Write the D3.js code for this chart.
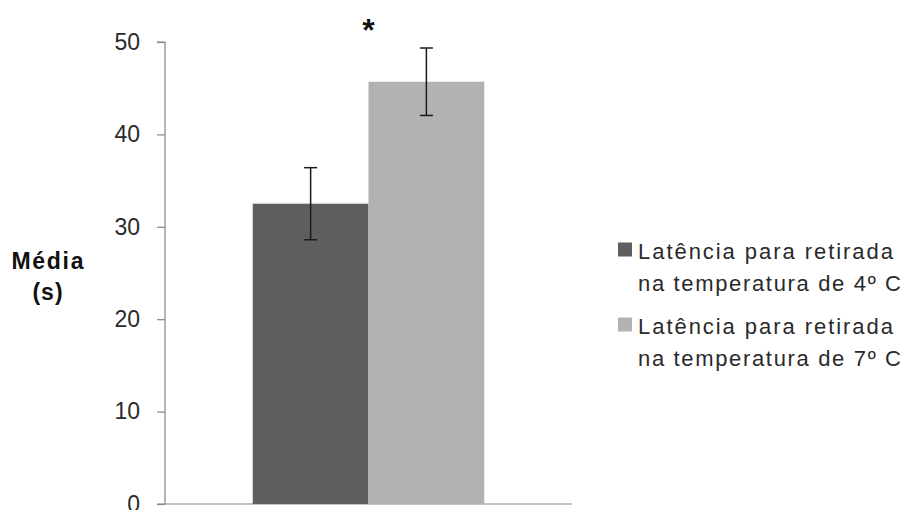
<!DOCTYPE html>
<html><head><meta charset="utf-8">
<script src="https://cdn.jsdelivr.net/npm/d3@7"></script>
<style>body{margin:0;background:#fff}svg{display:block}text{font-family:"Liberation Sans",Arial,sans-serif}</style>
</head><body><svg id="c" width="915" height="510"></svg>
<script>
const categories = ["Latência para retirada na temperatura de 4º C", "Latência para retirada na temperatura de 7º C"];
const legendLines = [["Latência para retirada", "na temperatura de 4º C"], ["Latência para retirada", "na temperatura de 7º C"]];
const values = [32.5, 45.7];
const errors = [3.9, 3.65];
const colors = ["#5f5f5f", "#b2b2b2"];
const yTicks = [0, 10, 20, 30, 40, 50];
const yLabel = ["Média", "(s)"];

const svg = d3.select("#c");
const x0 = 165, x1 = 572, yTop = 42, yBot = 504;
const y = d3.scaleLinear().domain([0, 50]).range([yBot, yTop]);
const xg = d3.scaleBand().domain(["g"]).range([x0, x1]).paddingInner(0).paddingOuter(0.379);
const xb = d3.scaleBand().domain(categories).range([xg("g"), xg("g") + xg.bandwidth()]);

// y axis
const yAxis = d3.axisLeft(y).tickValues(yTicks).tickSize(8).tickPadding(17).tickFormat(d3.format("d"));
const ga = svg.append("g").attr("transform", `translate(${x0},0)`).call(yAxis);
ga.select(".domain").attr("stroke", "#868686").attr("stroke-width", 1.2).attr("d", `M-8,${yTop}H0V${yBot}`);
ga.selectAll(".tick line").attr("stroke", "#868686").attr("stroke-width", 1.2);
ga.selectAll(".tick text").attr("font-size", 23).attr("fill", "#2a2a2a").attr("font-family", "Liberation Sans, Arial, sans-serif");
// x axis
svg.append("line").attr("x1", x0 - 8).attr("x2", x1).attr("y1", yBot).attr("y2", yBot)
  .attr("stroke", "#868686").attr("stroke-width", 1.2);

// bars
svg.selectAll("rect.bar").data(values).join("rect").attr("class", "bar")
  .attr("x", (d, i) => xb(categories[i])).attr("width", xb.bandwidth())
  .attr("y", d => y(d)).attr("height", d => yBot - y(d)).attr("fill", (d, i) => colors[i]);

// error bars
const eg = svg.selectAll("g.err").data(values).join("g").attr("class", "err")
  .attr("transform", (d, i) => `translate(${xb(categories[i]) + xb.bandwidth() / 2},0)`);
eg.append("line").attr("y1", (d, i) => y(d + errors[i])).attr("y2", (d, i) => y(d - errors[i]))
  .attr("stroke", "#1a1a1a").attr("stroke-width", 1.5);
[1, -1].forEach(s => {
  eg.append("line").attr("x1", -6.5).attr("x2", 6.5)
    .attr("y1", (d, i) => y(d + s * errors[i])).attr("y2", (d, i) => y(d + s * errors[i]))
    .attr("stroke", "#1a1a1a").attr("stroke-width", 1.5);
});

// asterisk
svg.append("text").attr("x", xg("g") + xg.bandwidth() / 2).attr("y", 41).attr("text-anchor", "middle")
  .attr("font-size", 32).attr("font-weight", "bold").attr("fill", "#111").text("*");

// y label
svg.append("text").attr("x", 47.5).attr("y", 268.5).attr("text-anchor", "middle")
  .attr("font-size", 23).attr("font-weight", "bold").attr("fill", "#111")
  .attr("textLength", 72).attr("lengthAdjust", "spacing").text(yLabel[0]);
svg.append("text").attr("x", 48).attr("y", 300).attr("text-anchor", "middle")
  .attr("font-size", 23).attr("font-weight", "bold").attr("fill", "#111").attr("letter-spacing", 1).text(yLabel[1]);

// legend
const lg = svg.selectAll("g.leg").data(legendLines).join("g").attr("class", "leg")
  .attr("transform", (d, i) => `translate(618,${242.5 + i * 75})`);
lg.append("rect").attr("width", 14).attr("height", 14).attr("fill", (d, i) => colors[i]);
lg.append("text").attr("x", 20).attr("y", 16).attr("font-size", 22).attr("fill", "#2a2a2a")
  .attr("textLength", 255).attr("lengthAdjust", "spacing").text(d => d[0]);
lg.append("text").attr("x", 20).attr("y", 48).attr("font-size", 22).attr("fill", "#2a2a2a")
  .attr("textLength", 263).attr("lengthAdjust", "spacing").text(d => d[1]);
</script></body></html>
